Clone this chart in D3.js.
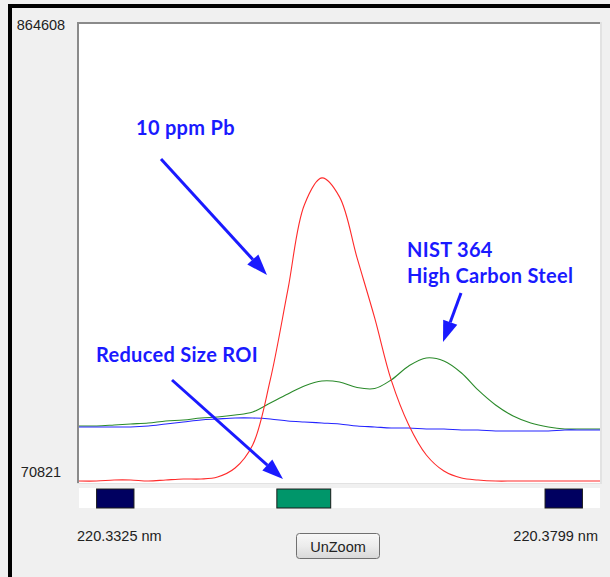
<!DOCTYPE html>
<html>
<head>
<meta charset="utf-8">
<script src="https://cdn.jsdelivr.net/npm/d3@7"></script>
<style>
  body { margin: 0; background: #f0f0f0; }
  svg { display: block; }
</style>
</head>
<body>
<script>
// wavelength grid (nm)
const wavelengths = [220.3325, 220.3341, 220.3357, 220.3372, 220.3388, 220.3404, 220.3420, 220.3436,
  220.3451, 220.3467, 220.3483, 220.3499, 220.3515, 220.3530, 220.3546, 220.3562, 220.3578,
  220.3594, 220.3609, 220.3625, 220.3641, 220.3657, 220.3673, 220.3688, 220.3704, 220.3720,
  220.3736, 220.3752, 220.3767, 220.3783, 220.3799];

// 10 ppm Pb (red)
const leadValues = [72500, 72500, 74300, 74300, 72500, 74300, 76000, 76000, 79500, 95000, 134800,
  247300, 403000, 550000, 596700, 563900, 458300, 354500, 247300, 169400, 117500, 89800, 77700,
  74300, 72500, 72500, 72500, 72500, 72500, 72500, 72500];

// NIST 364 high carbon steel (green)
const steelValues = [167700, 167700, 169400, 171200, 172900, 176400, 178100, 181500, 183300, 186700,
  191900, 207500, 223100, 236900, 245600, 243800, 234200, 232500, 247300, 271500, 285300, 280100,
  259400, 230000, 204000, 185000, 172900, 166000, 162500, 162500, 162500];

// reduced size ROI (blue)
const roiValues = [166000, 166000, 166000, 166000, 167700, 171200, 174600, 178100, 179800, 181500,
  181500, 179800, 176400, 174600, 172900, 171200, 167700, 166000, 164200, 164200, 162500, 162500,
  160800, 160800, 159100, 159100, 159100, 159100, 160800, 160800, 160800];

// regions of interest in the strip under the plot
const roiStart = [220.3341, 220.3505, 220.3749];
const roiEnd = [220.3375, 220.3554, 220.3783];
const roiColor = ["#000060", "#00966a", "#000060"];

const yTicks = [70821, 864608];
const xTicks = ["220.3325 nm", "220.3799 nm"];

const w = 610, h = 577;
const plot = { left: 79, right: 600, top: 24, bottom: 483 };

const svg = d3.select("body").append("svg")
  .attr("width", w)
  .attr("height", h);

// window frame
svg.append("rect").attr("x", 0).attr("y", 0).attr("width", w).attr("height", h).attr("fill", "#f0f0f0");
svg.append("rect").attr("x", 8).attr("y", 4).attr("width", w).attr("height", 4).attr("fill", "#000");
svg.append("rect").attr("x", 8).attr("y", 4).attr("width", 4).attr("height", h).attr("fill", "#000");

const x = d3.scaleLinear()
  .domain([wavelengths[0], wavelengths[wavelengths.length - 1]])
  .range([plot.left, plot.right]);

const y = d3.scaleLinear()
  .domain(yTicks)
  .range([482, 23]);

// plot panel with sunken border
svg.append("rect")
  .attr("x", plot.left).attr("y", plot.top)
  .attr("width", plot.right - plot.left).attr("height", plot.bottom - plot.top)
  .attr("fill", "#fff");
svg.append("rect").attr("x", 77).attr("y", 22).attr("width", plot.right - 77 + 1).attr("height", 2).attr("fill", "#8a8a8a");
svg.append("rect").attr("x", 77).attr("y", 22).attr("width", 2).attr("height", plot.bottom - 22).attr("fill", "#8a8a8a");
svg.append("rect").attr("x", plot.right).attr("y", 22).attr("width", 2).attr("height", plot.bottom - 22 + 1).attr("fill", "#e2e2e2");
svg.append("rect").attr("x", 77).attr("y", plot.bottom).attr("width", plot.right - 77 + 2).attr("height", 1).attr("fill", "#e2e2e2");

const line = d3.line()
  .x((d, i) => x(wavelengths[i]))
  .y(d => y(d))
  .curve(d3.curveCatmullRom.alpha(0.5));

const series = [
  { values: steelValues, color: "#2a8a2a" },
  { values: roiValues, color: "#2424ff" },
  { values: leadValues, color: "#ff2a2a" }
];

svg.append("g").selectAll("path")
  .data(series)
  .enter()
  .append("path")
  .attr("d", d => line(d.values))
  .attr("fill", "none")
  .attr("stroke", d => d.color)
  .attr("stroke-width", 1.1);

// ROI strip
svg.append("rect")
  .attr("x", plot.left).attr("y", 488)
  .attr("width", plot.right - plot.left).attr("height", 20)
  .attr("fill", "#fff");
svg.append("g").selectAll("rect")
  .data(roiStart)
  .enter()
  .append("rect")
  .attr("x", d => x(d))
  .attr("y", 489)
  .attr("width", (d, i) => x(roiEnd[i]) - x(d))
  .attr("height", 19)
  .attr("fill", (d, i) => roiColor[i])
  .attr("stroke", "#1a1a1a")
  .attr("stroke-width", 1);

// axis labels
const labelFont = "'Liberation Sans', Arial, sans-serif";
svg.append("g").selectAll("text")
  .data(yTicks)
  .enter()
  .append("text")
  .attr("x", 41)
  .attr("y", (d, i) => i === 0 ? y(d) - 5 : y(d) + 7)
  .attr("text-anchor", "middle")
  .attr("font-family", labelFont)
  .attr("font-size", 14.5)
  .attr("fill", "#222")
  .text(d => d);

svg.append("g").selectAll("text")
  .data(xTicks)
  .enter()
  .append("text")
  .attr("x", (d, i) => i === 0 ? x(wavelengths[0]) - 2 : x(wavelengths[wavelengths.length - 1]) - 2)
  .attr("y", 541)
  .attr("text-anchor", (d, i) => i === 0 ? "start" : "end")
  .attr("font-family", labelFont)
  .attr("font-size", 14.5)
  .attr("fill", "#222")
  .text(d => d);

// UnZoom button
const grad = svg.append("defs").append("linearGradient")
  .attr("id", "btn").attr("x1", 0).attr("y1", 0).attr("x2", 0).attr("y2", 1);
grad.append("stop").attr("offset", "0%").attr("stop-color", "#f8f8f8");
grad.append("stop").attr("offset", "50%").attr("stop-color", "#ececec");
grad.append("stop").attr("offset", "100%").attr("stop-color", "#d8d8d8");
svg.append("rect")
  .attr("x", 296.5).attr("y", 533.5).attr("width", 83).attr("height", 25).attr("rx", 3)
  .attr("fill", "url(#btn)").attr("stroke", "#707070");
svg.append("text")
  .attr("x", 338).attr("y", 552)
  .attr("text-anchor", "middle")
  .attr("font-family", labelFont)
  .attr("font-size", 14.5)
  .attr("fill", "#222")
  .text("UnZoom");

// annotations
const blue = "#1a1aff";
const annFont = "Lato, 'Open Sans', sans-serif";
const notes = [
  { text: "10 ppm Pb", x: 136, y: 135 },
  { text: "NIST 364", x: 407, y: 257 },
  { text: "High Carbon Steel", x: 407, y: 283 },
  { text: "Reduced Size ROI", x: 96, y: 362 }
];
svg.append("g").selectAll("text")
  .data(notes)
  .enter()
  .append("text")
  .attr("x", d => d.x)
  .attr("y", d => d.y)
  .attr("font-family", annFont)
  .attr("font-weight", "bold")
  .attr("font-size", 20)
  .attr("letter-spacing", 0.3)
  .attr("fill", blue)
  .text(d => d.text);

const arrows = [
  { x1: 161, y1: 159, x2: 267, y2: 275 },
  { x1: 461, y1: 293, x2: 443, y2: 342 },
  { x1: 172, y1: 380, x2: 283, y2: 479 }
];
const arrowG = svg.append("g");
arrows.forEach(a => {
  const ang = Math.atan2(a.y2 - a.y1, a.x2 - a.x1);
  const len = 21, half = 7.5;
  const bx = a.x2 - len * Math.cos(ang), by = a.y2 - len * Math.sin(ang);
  arrowG.append("line")
    .attr("x1", a.x1).attr("y1", a.y1).attr("x2", bx).attr("y2", by)
    .attr("stroke", blue).attr("stroke-width", 3);
  const pts = [
    [a.x2, a.y2],
    [bx + half * Math.sin(ang), by - half * Math.cos(ang)],
    [bx - half * Math.sin(ang), by + half * Math.cos(ang)]
  ];
  arrowG.append("polygon")
    .attr("points", pts.map(p => p.join(",")).join(" "))
    .attr("fill", blue);
});
</script>
</body>
</html>
